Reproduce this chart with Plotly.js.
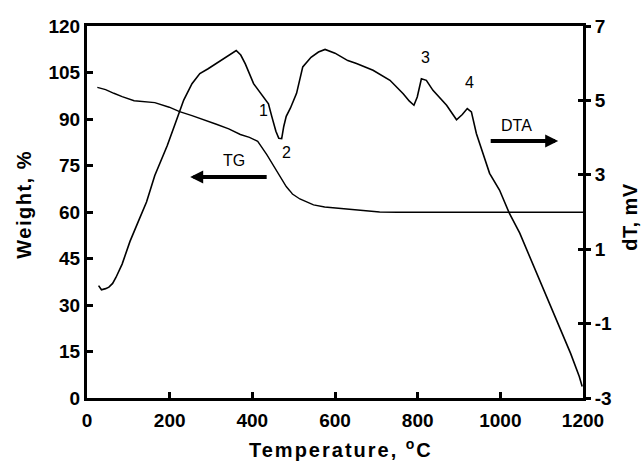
<!DOCTYPE html>
<html>
<head>
<meta charset="utf-8">
<script src="https://cdn.plot.ly/plotly-3.0.1.min.js"></script>
<style>
html,body{margin:0;padding:0;background:#fff;}
g.annotation[data-index="8"] text{letter-spacing:2px;}
g.annotation[data-index="9"] text{letter-spacing:1.5px;}
g.annotation[data-index="10"] text{letter-spacing:0.5px;}
</style>
</head>
<body>
<div id="chart" style="width:643px;height:463px;"></div>
<script>
// TG curve (left axis, weight %)
const tempTG = [25,45,65,85,114,140,164,199,224,254,283,313,343,371,393,413,435,451,462,471,482,491,497,515,530,548,575,612,661,708,750,800,900,1000,1100,1200];
const weightTG = [100.2,99.5,98.3,97.2,95.9,95.6,95.3,93.8,92.4,91.1,89.8,88.3,86.8,85.0,84.1,82.8,78.5,75.0,72.8,70.5,68.2,66.8,65.8,64.2,63.3,62.3,61.6,61.1,60.4,60.0,59.9,59.9,59.9,59.9,59.9,59.9];

// DTA curve (right axis, dT mV)
const tempDTA = [28,35,45,53,62,70,85,104,124,144,164,194,214,234,254,273,293,323,345,361,372,383,403,419,430,439,447,457,464,471,476,482,492,507,522,542,560,576,600,631,652,692,733,765,780,791,799,809,821,837,870,894,908,920,930,942,950,974,998,1022,1047,1095,1143,1170,1191,1198];
const dtaVals = [0.02,-0.09,-0.06,-0.02,0.08,0.24,0.6,1.21,1.74,2.27,2.98,3.78,4.39,5.01,5.45,5.72,5.85,6.07,6.22,6.34,6.22,5.98,5.45,5.22,5.05,4.91,4.57,4.17,3.98,3.97,4.3,4.57,4.79,5.19,5.9,6.16,6.3,6.37,6.27,6.07,5.99,5.81,5.54,5.18,4.98,4.87,5.09,5.58,5.54,5.27,4.87,4.48,4.62,4.78,4.69,4.11,3.84,3.04,2.59,1.96,1.43,0.17,-1.08,-1.8,-2.42,-2.69];

// Right axis ticks (hyphen minus as in the original)
const y2TickVals = [-3,-1,1,3,5,7];
const y2TickText = ["-3","-1","1","3","5","7"];

// Text labels
const peakLabels = ["1","2","3","4"];
const xTitle = "Temperature, <sup>o</sup>C";
const yTitle = "Weight, %";
const y2Title = "dT, mV";

const FONT = "Liberation Sans, Arial, sans-serif";
const tickFont = {family: FONT, size: 19, color: "#000", weight: "bold"};
const titleFont = {family: FONT, size: 20, color: "#000", weight: "bold"};

const traces = [
  {x: tempTG, y: weightTG, type: "scatter", mode: "lines", line: {color: "#000", width: 1.4}, xaxis: "x", yaxis: "y", hoverinfo: "skip"},
  {x: tempDTA, y: dtaVals, type: "scatter", mode: "lines", line: {color: "#000", width: 1.6}, xaxis: "x", yaxis: "y2", hoverinfo: "skip"},
  {x: [], y: [], type: "scatter", mode: "lines", yaxis: "y3", hoverinfo: "skip"}
];

const lbl = (t, x, y, size, extra) => Object.assign({text:t, xref:"paper", yref:"paper", x:x, y:y, xanchor:"center", yanchor:"middle", showarrow:false, font:{family:FONT,size:size,color:"#000"}}, extra||{});
const labelPos = [[0.3555,0.772],[0.402,0.659],[0.6818,0.916],[0.771,0.848]];
const annotations = peakLabels.map((t,i)=>lbl(t, labelPos[i][0], labelPos[i][1], 16));
annotations.push(lbl("TG", 0.297, 0.638, 16));
annotations.push(lbl("DTA", 0.865, 0.732, 16));
// arrows
annotations.push({text:"", xref:"paper", yref:"paper", x:0.208, y:0.594, ax:78, ay:0, showarrow:true, arrowhead:2, arrowsize:0.65, arrowwidth:4, arrowcolor:"#000", standoff:0});
annotations.push({text:"", xref:"paper", yref:"paper", x:0.95, y:0.691, ax:-69, ay:0, showarrow:true, arrowhead:2, arrowsize:0.65, arrowwidth:4, arrowcolor:"#000", standoff:0});
// axis titles (indices 8, 9, 10)
annotations.push(lbl(xTitle, 0.512, -0.136, 20, {font:titleFont}));
annotations.push(lbl(yTitle, -0.127, 0.519, 20, {textangle:-90, font:titleFont}));
annotations.push(lbl(y2Title, 1.095, 0.486, 20, {textangle:-90, font:titleFont}));

const layout = {
  width: 643, height: 463,
  margin: {l: 87, r: 60, t: 26, b: 65},
  paper_bgcolor: "#fff", plot_bgcolor: "#fff",
  showlegend: false,
  xaxis: {range: [0,1200], dtick: 200, tick0: 0, ticks: "inside", ticklen: 6, tickwidth: 3, tickcolor: "#000",
          showline: true, linewidth: 3, linecolor: "#000", mirror: true, showgrid: false, zeroline: false,
          tickfont: tickFont, ticklabelstandoff: 3, fixedrange: true},
  yaxis: {range: [0,120], dtick: 15, tick0: 0, ticks: "inside", ticklen: 6, tickwidth: 3, tickcolor: "#000",
          showline: true, linewidth: 3, linecolor: "#000", showgrid: false, zeroline: false,
          tickfont: tickFont, fixedrange: true},
  yaxis2: {range: [-3,7], tickmode: "array", tickvals: y2TickVals, ticktext: y2TickText, overlaying: "y", side: "right", ticks: "outside", ticklen: 5, tickwidth: 3, tickcolor: "#000",
           showline: true, linewidth: 3, linecolor: "#000", showgrid: false, zeroline: false,
           tickfont: tickFont, fixedrange: true},
  yaxis3: {range: [-3,7], tickmode: "array", tickvals: y2TickVals, overlaying: "y", side: "right", ticks: "inside", ticklen: 5, tickwidth: 3, tickcolor: "#000",
           showline: false, showticklabels: false, showgrid: false, zeroline: false, fixedrange: true},
  annotations: annotations
};

Plotly.newPlot("chart", traces, layout, {staticPlot: true, displayModeBar: false});
</script>
</body>
</html>
